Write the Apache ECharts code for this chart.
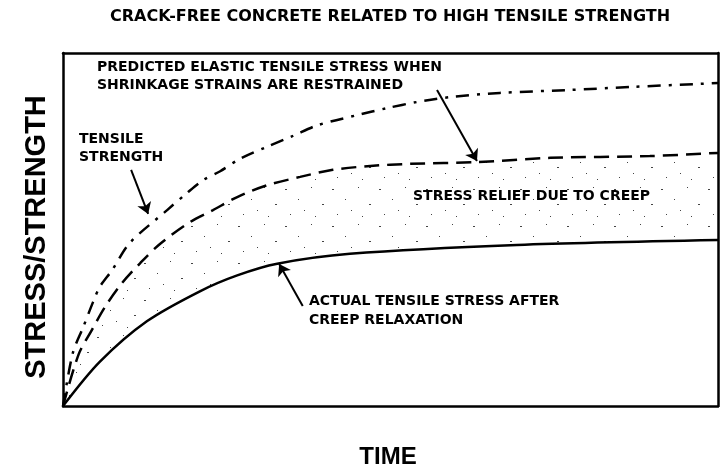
<!DOCTYPE html>
<html>
<head>
<meta charset="utf-8">
<script src="https://cdn.jsdelivr.net/npm/echarts@6/dist/echarts.min.js"></script>
<style>
  html, body { margin: 0; padding: 0; background: #fff; }
  #chart { width: 725px; height: 473px; }
</style>
</head>
<body>
<div id="chart"></div>
<script>
// curve values, [time, stress] on a 0-100 scale
var elasticStress = [[0, 0], [1.5, 15], [3.1, 22.4], [4.6, 29.5], [5.6, 33.7], [7.5, 38.5], [10.2, 46.2],
  [15.9, 55.5], [18.9, 60.3], [21.4, 64], [24, 66.5], [27, 70], [31.1, 73.4], [35.1, 76.5], [38.8, 79.5],
  [44.9, 82.4], [49.5, 84.4], [54, 86.1], [59.1, 87.5], [66.7, 88.7], [76.9, 89.5], [87, 90.4], [100, 91.5]];
var tensileStrength = [[0, 0], [2.4, 14.7], [4.4, 21.5], [6.4, 28], [9, 34.8], [11.8, 40.5], [14.8, 45.9],
  [19.4, 52.1], [22.9, 55.5], [26.6, 59.2], [31.1, 62.5], [36.2, 64.9], [41.2, 66.9], [46.9, 68],
  [53, 68.6], [63.2, 69.1], [74.4, 70.3], [89.6, 70.8], [100, 71.7]];
var actualStress = [[0, 0], [5.6, 12.5], [12.8, 24], [20.9, 32.5], [26.6, 37], [32.7, 40.3],
  [43.8, 43.1], [69.3, 45.6], [100, 47]];

// annotation arrows: from label to curve
var arrowTensile = [[10.4, 66.9], [13.0, 54.4]];
var arrowElastic = [[57.1, 89.5], [63.2, 69.4]];
var arrowActual = [[36.6, 28.3], [33.0, 40.2]];

var chart = echarts.init(document.getElementById('chart'));

// sparse stipple between the curves
var pat = document.createElement('canvas');
pat.width = 47; pat.height = 37;
var ctx = pat.getContext('2d');
ctx.fillStyle = '#444';
[[3, 4, 2], [29, 2, 1], [16, 14, 1], [40, 19, 2], [8, 29, 1], [33, 31, 1], [22, 25, 1]].forEach(function (d) {
  ctx.fillRect(d[0], d[1], d[2], 1);
});

var ann = 'bold 14px "DejaVu Sans"';
function txt(s, x, y, font, align) {
  return {
    type: 'text', x: x, y: y, z: 100,
    style: { text: s, font: font || ann, fill: '#000', textAlign: align || 'left', textVerticalAlign: 'middle' }
  };
}
function arrow(p) {
  return [{ coord: p[0] }, { coord: p[1] }];
}

var frameAxis = {
  type: 'value', min: 0, max: 100, z: 10,
  axisLine: { show: true, onZero: false, lineStyle: { color: '#000', width: 2.5 } },
  axisTick: { show: false }, axisLabel: { show: false }, splitLine: { show: false }
};

chart.setOption({
  animation: false,
  grid: { left: 63, right: 7, top: 53, bottom: 67 },
  xAxis: [
    Object.assign({ position: 'bottom' }, frameAxis),
    Object.assign({ position: 'top' }, frameAxis)
  ],
  yAxis: [
    Object.assign({ position: 'left' }, frameAxis),
    Object.assign({ position: 'right' }, frameAxis)
  ],
  graphic: [
    txt('CRACK-FREE CONCRETE RELATED TO HIGH TENSILE STRENGTH', 390, 17, 'bold 16px "DejaVu Sans"', 'center'),
    txt('PREDICTED ELASTIC TENSILE STRESS WHEN', 97, 67),
    txt('SHRINKAGE STRAINS ARE RESTRAINED', 97, 85),
    txt('TENSILE', 79, 139),
    txt('STRENGTH', 79, 157),
    txt('STRESS RELIEF DUE TO CREEP', 413, 196),
    txt('ACTUAL TENSILE STRESS AFTER', 309, 301),
    txt('CREEP RELAXATION', 309, 320),
    txt('TIME', 388, 457, 'bold 24px "Liberation Sans"', 'center'),
    {
      type: 'text', x: 37, y: 237, rotation: Math.PI / 2, z: 100,
      style: { text: 'STRESS/STRENGTH', font: 'bold 29px "Liberation Sans"', fill: '#000', textAlign: 'center', textVerticalAlign: 'middle' }
    }
  ],
  series: [
    {
      name: 'Tensile strength', type: 'line', data: elasticStress, smooth: 0.3,
      showSymbol: false, symbol: 'none', z: 3,
      lineStyle: { color: '#000', width: 2.5, type: [13, 8, 3, 8] }
    },
    {
      name: 'Predicted elastic tensile stress', type: 'line', data: tensileStrength, smooth: 0.3,
      showSymbol: false, symbol: 'none', z: 2,
      lineStyle: { color: '#000', width: 2.5, type: [15, 8] },
      areaStyle: { color: { image: pat, repeat: 'repeat' }, opacity: 1 }
    },
    {
      name: 'Actual tensile stress', type: 'line', data: actualStress, smooth: 0.3,
      showSymbol: false, symbol: 'none', z: 3,
      lineStyle: { color: '#000', width: 2.5 },
      areaStyle: { color: '#fff', opacity: 1 },
      markLine: {
        silent: true, symbol: ['none', 'arrow'], symbolSize: 11,
        label: { show: false },
        lineStyle: { color: '#000', width: 2, type: 'solid' },
        data: [arrow(arrowTensile), arrow(arrowElastic), arrow(arrowActual)]
      }
    }
  ]
});
</script>
</body>
</html>
